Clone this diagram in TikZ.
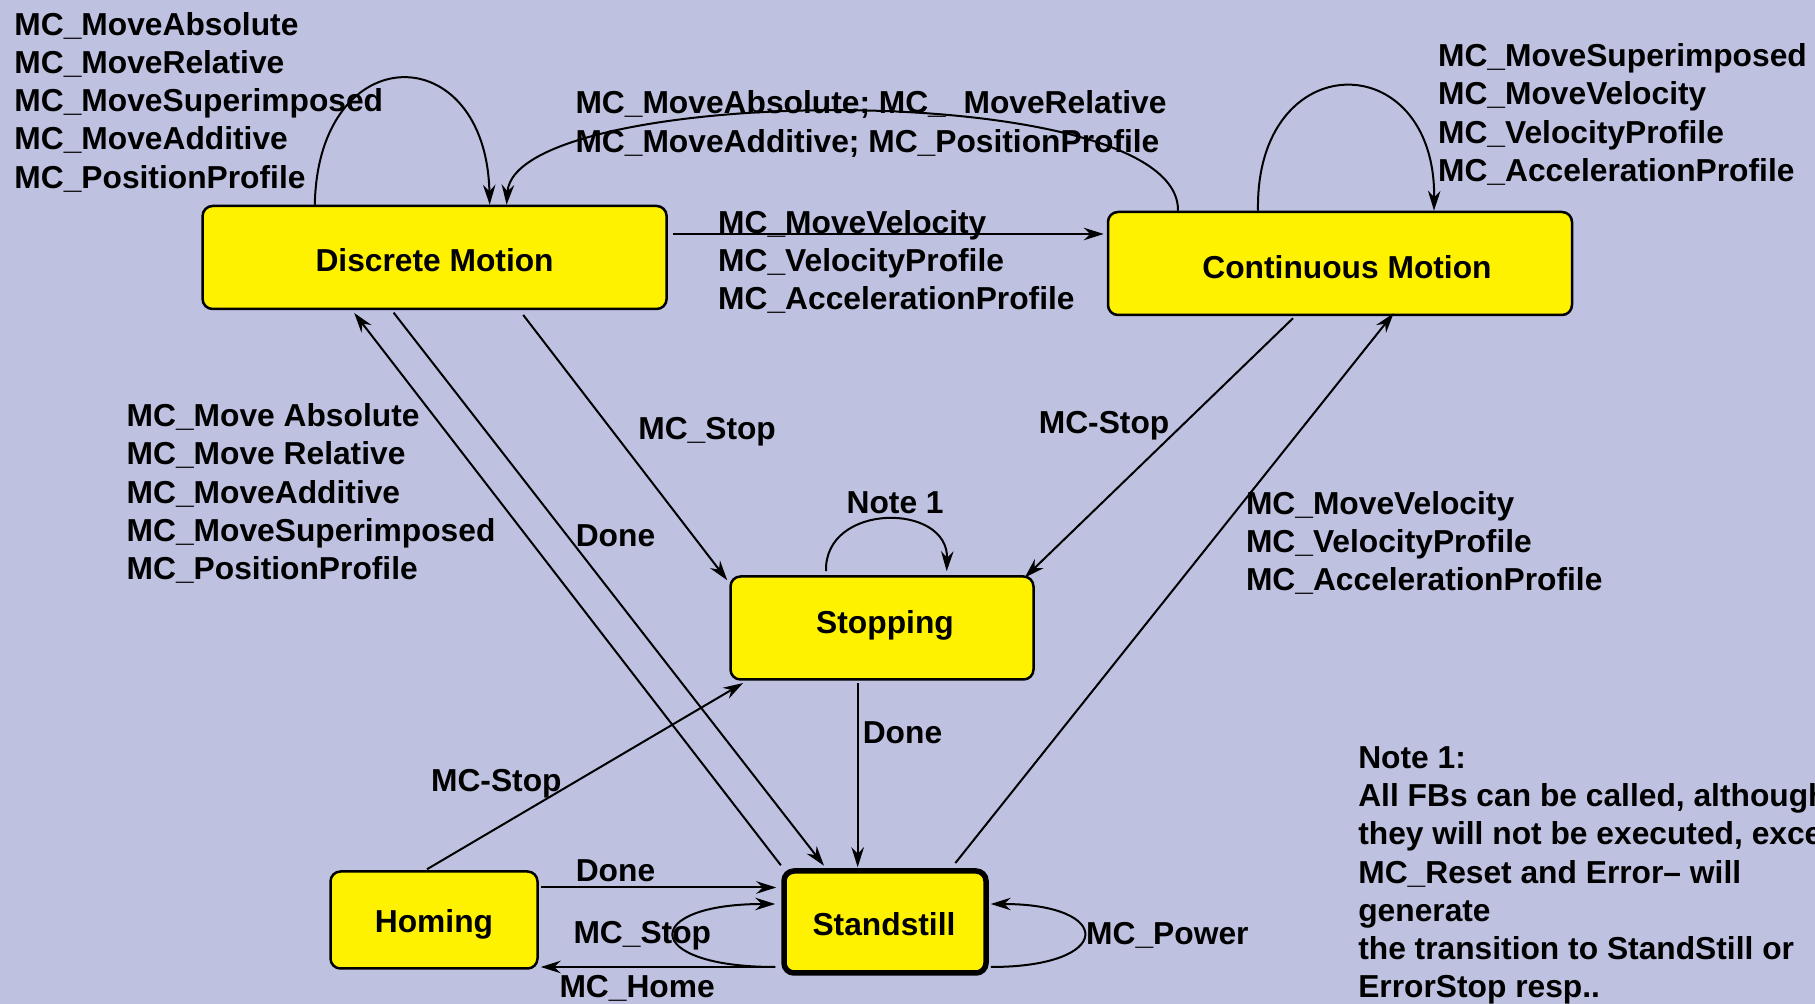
\documentclass[tikz,border=0pt]{standalone}
\usepackage{fontspec}
\setmainfont{Liberation Sans}
\usetikzlibrary{arrows.meta,calc}
\definecolor{bgc}{RGB}{190,194,224}
\tikzset{
  every node/.style={font=\fontsize{12.7}{15.3}\selectfont\bfseries},
  state/.style={draw, line width=1pt, fill=yellow, rounded corners=4pt, inner sep=0pt, align=center},
  lbl/.style={anchor=west, inner sep=0pt, align=left},
  stxt/.style={inner sep=0pt},
  conn/.style={line width=0.8pt, -{Stealth[length=8pt,width=5pt]}},
  plainln/.style={line width=0.8pt}
}
\begin{document}
\begin{tikzpicture}[x=0.4pt,y=-0.4pt]
\clip (0,0) rectangle (1815,1004);
\fill[bgc] (0,0) rectangle (1815,1004);

% states
\node[state, minimum width=185.6pt, minimum height=41.2pt] (dm) at (434.6,257.5) {};
\node[state, minimum width=185.6pt, minimum height=41.2pt] (cm) at (1340,263.5) {};
\node[state, minimum width=121.2pt, minimum height=41.2pt] (st) at (882,628) {};
\node[state, line width=2.2pt, minimum width=80.8pt, minimum height=40.8pt] (ss) at (885,922) {};
\node[state, minimum width=82.8pt, minimum height=38.8pt] (hm) at (434,920) {};
\node[stxt] (dmt) at ($(dm)+(0,2.5)$) {Discrete Motion};
\node[stxt] (cmt) at ($(cm)+(7,3.5)$) {Continuous Motion};
\node[stxt] (stt) at ($(st)+(3,-2.5)$) {Stopping};
\node[stxt] (sst) at ($(ss)+(-1,2.5)$) {Standstill};
\node[stxt] (hmt) at ($(hm)+(0,4.5)$) {Homing};

% labels
\node[lbl] (l1) at (13.9,102) {MC\_MoveAbsolute\\MC\_MoveRelative\\MC\_MoveSuperimposed\\MC\_MoveAdditive\\MC\_PositionProfile};
\node[lbl] (l2) at (575,124) {MC\_MoveAbsolute; MC\_\ \ MoveRelative\\MC\_MoveAdditive; MC\_PositionProfile};
\node[lbl] (l3) at (717.7,262) {MC\_MoveVelocity\\MC\_VelocityProfile\\MC\_AccelerationProfile};
\node[lbl] (l4) at (1437.6,114.5) {MC\_MoveSuperimposed\\MC\_MoveVelocity\\MC\_VelocityProfile\\MC\_AccelerationProfile};
\node[lbl] (l5) at (126.2,493.5) {MC\_Move Absolute\\MC\_Move Relative\\MC\_MoveAdditive\\MC\_MoveSuperimposed\\MC\_PositionProfile};
\node[lbl] (l6) at (637.8,431.5) {MC\_Stop};
\node[lbl] (l7) at (1038.3,425.5) {MC-Stop};
\node[lbl] (l8) at (575.3,535.5) {Done};
\node[lbl] (l9) at (846.1,503) {Note 1};
\node[lbl] (l10) at (1245.5,543) {MC\_MoveVelocity\\MC\_VelocityProfile\\MC\_AccelerationProfile};
\node[lbl] (l11) at (862.3,733) {Done};
\node[lbl] (l12) at (430.6,783.5) {MC-Stop};
\node[lbl] (l13) at (575.3,870.5) {Done};
\node[lbl] (l14) at (573,935.5) {MC\_Stop};
\node[lbl] (l15) at (559,988.5) {MC\_Home};
\node[lbl] (l16) at (1085.7,935.5) {MC\_Power};
\node[lbl] (note) at (1357.8,875.5) {Note 1:\\All FBs can be called, although\\they will not be executed, except\\MC\_Reset and Error– will\\generate\\the transition to StandStill or\\ErrorStop resp..};

% self loops
\draw[conn] ($(dm.north)+(-119.8,0)$) .. controls +(3.2,-168) and +(-3.7,-168) .. ($(dm.north)+(55.1,0)$);
\draw[conn] ($(cm.north)+(-82,0)$) .. controls +(-3,-166) and +(2,-166) .. ($(cm.north)+(94,0)$);
\draw[conn] ($(st.north)+(-56,-4)$) .. controls +(-2,-69) and +(2,-69) .. ($(st.north)+(64.7,-4)$);
\draw[conn] ($(ss.west)+(-6,45)$) .. controls +(-135,0) and +(-135,0) .. ($(ss.west)+(-6,-18)$);
\draw[conn] ($(ss.east)+(2,45)$) .. controls +(124,0) and +(124,0) .. ($(ss.east)+(2,-18)$);

% CM -> DM arc
\draw[conn] ($(cm.north)+(-162,0)$) .. controls +(2,-135) and +(8,-121) .. ($(dm.north)+(72,0)$);

% straight transitions
\draw[conn] ($(dm.east)+(5,-23.5)$) -- ($(cm.west)+(-3,-29.5)$);
\draw[conn] ($(dm.south)+(88.6,4.7)$) -- ($(st.north west)+(-2,5)$);
\draw[conn] ($(cm.south)+(-47,2)$) -- ($(st.north east)+(-10,2.3)$);
\draw[conn] ($(st.south)+(-24.3,2.3)$) -- ($(ss.north)+(-27.3,-1)$);
\draw[conn] ($(hm.north)+(-7,-1)$) -- ($(st.south west)+(13.8,2.3)$);
\draw[conn] ($(ss.north west)+(-0.4,-3)$) -- ($(dm.south)+(-80.4,2.7)$);
\draw[conn] ($(dm.south)+(-41,2.4)$) -- ($(ss.north)+(-61,-2.5)$);
\draw[conn] ($(ss.north east)+(-33.4,-5.2)$) -- ($(cm.south)+(53.6,-3)$);
\draw[conn] ($(hm.east)+(2,-32.5)$) -- ($(ss.west)+(-5,-34.5)$);
\draw[conn] ($(ss.west)+(-6,45)$) -- ($(hm.east)+(2,47)$);
\end{tikzpicture}
\end{document}
